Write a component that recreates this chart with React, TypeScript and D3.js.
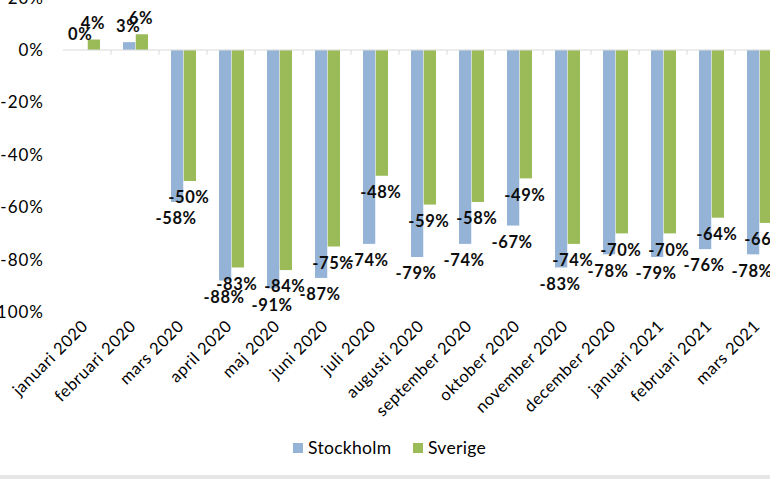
// @ts-nocheck
import React, { useEffect } from 'react';
import * as d3 from 'd3';

const months = [
  'januari 2020', 'februari 2020', 'mars 2020', 'april 2020', 'maj 2020',
  'juni 2020', 'juli 2020', 'augusti 2020', 'september 2020', 'oktober 2020',
  'november 2020', 'december 2020', 'januari 2021', 'februari 2021', 'mars 2021',
];
const stockholm = [0, 3, -58, -88, -91, -87, -74, -79, -74, -67, -83, -78, -79, -76, -78];
const sverige = [4, 6, -50, -83, -84, -75, -48, -59, -58, -49, -74, -70, -70, -64, -66];
const seriesNames = ['Stockholm', 'Sverige'];
const seriesColors = ['#95b3d7', '#9bbb59'];
const yTicks = [20, 0, -20, -40, -60, -80, -100];

const font = 'Lato, "Open Sans", sans-serif';

export default function App() {
  useEffect(() => {
    document.body.style.margin = '0';
  }, []);

  const width = 770;
  const height = 479;

  // the plot runs past the right edge, as in the cropped reference
  const x = d3.scaleBand().domain(months).range([63, 63 + months.length * 48]);
  const inner = d3.scaleBand().domain(seriesNames).range([12, 37]).paddingInner(0.04);
  const y = d3.scaleLinear().domain([-100, 20]).range([312, -2.4]);

  const rows = months.map((m, i) => ({ month: m, values: [stockholm[i], sverige[i]] }));

  return (
    <svg width={width} height={height} style={{ display: 'block', fontFamily: font }}>
      <rect x={0} y={0} width={width} height={height} fill="#fff" />

      {/* y axis labels */}
      {yTicks.map(t => (
        <text key={t} x={44} y={y(t)} dy="0.35em" textAnchor="end" fontSize={17} letterSpacing={1} fill="#000">
          {`${t}%`}
        </text>
      ))}

      {/* bars */}
      {rows.map(r => (
        <g key={r.month} transform={`translate(${x(r.month)},0)`}>
          {r.values.map((v, j) => (
            <rect
              key={j}
              x={inner(seriesNames[j])}
              y={Math.min(y(v), y(0))}
              width={inner.bandwidth()}
              height={Math.abs(y(v) - y(0))}
              fill={seriesColors[j]}
            />
          ))}
        </g>
      ))}

      {/* baseline and tick marks */}
      <line x1={x.range()[0]} x2={x.range()[1]} y1={y(0)} y2={y(0)} stroke="#d9d9d9" strokeWidth={1} />
      {months.map(m => (
        <line key={m} x1={x(m) + 48} x2={x(m) + 48} y1={y(0)} y2={y(0) + 5} stroke="#d9d9d9" />
      ))}

      {/* data labels */}
      {rows.map(r => (
        <g key={r.month} transform={`translate(${x(r.month)},0)`}>
          {r.values.map((v, j) => (
            <text
              key={j}
              x={inner(seriesNames[j]) + inner.bandwidth() / 2 - 1}
              y={v < 0 ? y(v) + 16.5 : y(v) - 16}
              dy="0.35em"
              textAnchor="middle"
              fontSize={16.5}
              fontWeight="bold"
              letterSpacing={0.6}
              fill="#0d0d0d"
            >
              {`${v}%`}
            </text>
          ))}
        </g>
      ))}

      {/* category labels */}
      {months.map(m => (
        <text
          key={m}
          transform={`translate(${x(m) + x.bandwidth() / 2 + 2},${327}) rotate(-45)`}
          textAnchor="end"
          fontSize={16.5}
          letterSpacing={0.6}
          fill="#000"
        >
          {m}
        </text>
      ))}

      {/* legend */}
      {seriesNames.map((s, i) => {
        const lx = [293, 413][i];
        return (
          <g key={s} transform={`translate(${lx},443)`}>
            <rect x={0} y={0} width={10} height={10} fill={seriesColors[i]} />
            <text x={15} y={5} dy="0.35em" fontSize={17.5} letterSpacing={0.3} fill="#000">{s}</text>
          </g>
        );
      })}

      <rect x={0} y={475} width={width} height={4} fill="#e6e6e6" />
    </svg>
  );
}
